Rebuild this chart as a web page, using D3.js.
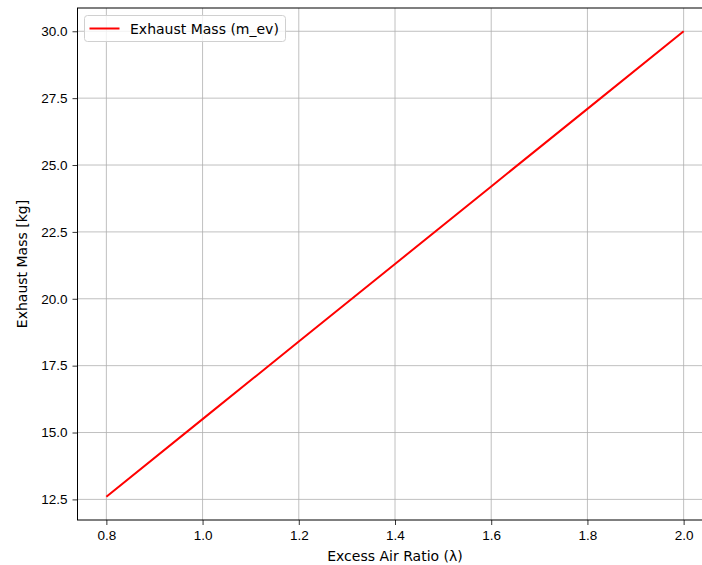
<!DOCTYPE html>
<html>
<head>
<meta charset="utf-8">
<script src="https://cdn.jsdelivr.net/npm/d3@7"></script>
<style>
  body { margin: 0; background: #fff; }
  svg { font-family: "DejaVu Sans", sans-serif; }
  .grid line { stroke: #b0b0b0; stroke-width: 0.8; }
  .axis text { font-size: 13.5px; fill: #000; }
  .axis line { stroke: #000; stroke-width: 0.8; }
  .axis path.domain { display: none; }
</style>
</head>
<body>
<svg id="chart"></svg>
<script>
// excess air ratio values
var lambdas = [0.8, 1.0, 1.2, 1.4, 1.6, 1.8, 2.0];
// exhaust mass [kg]
var exhaustMass = [12.6, 15.5, 18.4, 21.3, 24.2, 27.1, 30.0];
var xTicks = [0.8, 1.0, 1.2, 1.4, 1.6, 1.8, 2.0];
var yTicks = [12.5, 15.0, 17.5, 20.0, 22.5, 25.0, 27.5, 30.0];

var size = { width: 702, height: 565 };
var margin = { left: 77.5, top: 8, right: 702 - 712.5, bottom: 565 - 520 };
var width = size.width - margin.left - margin.right;
var height = size.height - margin.top - margin.bottom;

var data = lambdas.map((l, i) => ({ x: l, y: exhaustMass[i] }));

var x = d3.scaleLinear().domain([0.74, 2.06]).range([0, width]);
var y = d3.scaleLinear().domain([11.73, 30.87]).range([height, 0]);

var svg = d3.select('#chart')
  .attr('width', size.width)
  .attr('height', size.height);

var chart = svg.append('g')
  .attr('transform', `translate(${ margin.left }, ${ margin.top })`);

// grid
var grid = chart.append('g').attr('class', 'grid');
grid.selectAll('.gx').data(xTicks).enter().append('line')
  .attr('x1', d => x(d)).attr('x2', d => x(d))
  .attr('y1', 0).attr('y2', height);
grid.selectAll('.gy').data(yTicks).enter().append('line')
  .attr('x1', 0).attr('x2', width)
  .attr('y1', d => y(d)).attr('y2', d => y(d));

// line
var line = d3.line().x(d => x(d.x)).y(d => y(d.y));
chart.append('path')
  .datum(data)
  .attr('d', line)
  .attr('fill', 'none')
  .attr('stroke', '#ff0000')
  .attr('stroke-width', 2);

// axes
chart.append('g')
  .attr('class', 'axis x')
  .attr('transform', `translate(0, ${ height })`)
  .call(d3.axisBottom(x).tickValues(xTicks).tickFormat(d3.format('.1f')).tickSizeOuter(0).tickSize(5).tickPadding(5));

chart.append('g')
  .attr('class', 'axis y')
  .call(d3.axisLeft(y).tickValues(yTicks).tickFormat(d3.format('.1f')).tickSizeOuter(0).tickSize(5).tickPadding(5));

// frame
chart.append('rect')
  .attr('width', width).attr('height', height)
  .attr('fill', 'none').attr('stroke', '#000').attr('stroke-width', 1);

// labels
svg.append('text')
  .attr('x', margin.left + x(1.4))
  .attr('y', 561)
  .attr('text-anchor', 'middle')
  .attr('font-size', 14)
  .text('Excess Air Ratio (λ)');

svg.append('text')
  .attr('transform', `translate(27, ${ margin.top + height / 2 }) rotate(-90)`)
  .attr('text-anchor', 'middle')
  .attr('font-size', 14)
  .text('Exhaust Mass [kg]');

// legend
var legend = svg.append('g').attr('transform', 'translate(84.5, 15.5)');
legend.append('rect')
  .attr('width', 201).attr('height', 26).attr('rx', 3)
  .attr('fill', '#fff').attr('fill-opacity', 0.8)
  .attr('stroke', '#d0d0d0');
legend.append('line')
  .attr('x1', 5).attr('x2', 35).attr('y1', 13).attr('y2', 13)
  .attr('stroke', '#ff0000').attr('stroke-width', 2);
legend.append('text')
  .attr('x', 45.5).attr('y', 18)
  .attr('font-size', 14)
  .text('Exhaust Mass (m_ev)');
</script>
</body>
</html>
